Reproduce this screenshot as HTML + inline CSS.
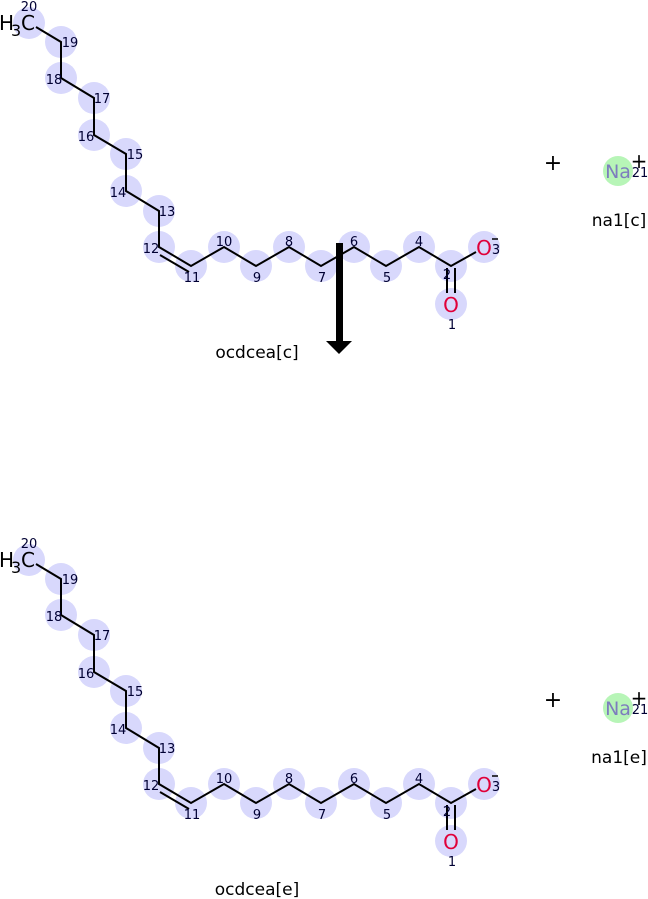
<!DOCTYPE html>
<html><head><meta charset="utf-8"><style>
html,body{margin:0;padding:0;background:#fff;width:648px;height:899px;overflow:hidden}
svg{display:block}
</style></head><body>
<svg width="648" height="899" viewBox="0 0 648 899" xmlns="http://www.w3.org/2000/svg" font-family="DejaVu Sans, Liberation Sans, sans-serif">
<defs>
<g id="mol">
<g fill="#d8d8fc">
<circle cx="29" cy="23" r="16"/><circle cx="61" cy="42" r="16"/><circle cx="61" cy="78" r="16"/>
<circle cx="94" cy="98" r="16"/><circle cx="94" cy="135" r="16"/><circle cx="126" cy="154" r="16"/>
<circle cx="126" cy="191" r="16"/><circle cx="159" cy="211" r="16"/><circle cx="159" cy="247" r="16"/>
<circle cx="191" cy="266" r="16"/><circle cx="224" cy="247" r="16"/><circle cx="256" cy="266" r="16"/>
<circle cx="289" cy="247" r="16"/><circle cx="321" cy="266" r="16"/><circle cx="354" cy="247" r="16"/>
<circle cx="386" cy="266" r="16"/><circle cx="419" cy="247" r="16"/><circle cx="451" cy="266" r="16"/>
<circle cx="484" cy="247" r="16"/><circle cx="451" cy="304" r="16"/>
</g>
<polyline stroke="#000" stroke-width="2" fill="none" points="36,27 61,42 61,78 94,98 94,135 126,154 126,191 159,211 159,247 191,266 224,247 256,266 289,247 321,266 354,247 386,266 419,247 451,266 476,252"/>
<line stroke="#000" stroke-width="2" x1="160" y1="255" x2="189" y2="272"/>
<line stroke="#000" stroke-width="2" x1="447" y1="268" x2="447" y2="293"/>
<line stroke="#000" stroke-width="2" x1="455" y1="268" x2="455" y2="293"/>
<text x="-1" y="30" font-size="20" fill="#000">H</text>
<text x="11" y="36" font-size="16" fill="#000">3</text>
<text x="21" y="30" font-size="20" fill="#000">C</text>
<g font-size="13" fill="#000033" text-anchor="middle">
<text x="29" y="11">20</text>
<text x="70" y="47">19</text>
<text x="54" y="84">18</text>
<text x="102" y="103">17</text>
<text x="86" y="141">16</text>
<text x="135" y="159">15</text>
<text x="118" y="197">14</text>
<text x="167" y="216">13</text>
<text x="151" y="253">12</text>
<text x="192" y="282">11</text>
<text x="224" y="246">10</text>
<text x="257" y="282">9</text>
<text x="289" y="246">8</text>
<text x="322" y="282">7</text>
<text x="354" y="246">6</text>
<text x="387" y="282">5</text>
<text x="419" y="246">4</text>
<text x="447" y="279">2</text>
<text x="496" y="254">3</text>
<text x="452" y="329">1</text>
<text x="640" y="177">21</text>
</g>
<text x="484" y="255" font-size="20" fill="#e0003a" text-anchor="middle">O</text>
<line x1="492" y1="239" x2="498" y2="239" stroke="#000" stroke-width="1.5"/>
<text x="451" y="312" font-size="20" fill="#e0003a" text-anchor="middle">O</text>
<text x="553" y="170" font-size="22" fill="#000" text-anchor="middle">+</text>
<circle cx="618" cy="171" r="15" fill="#b7f5b7"/>
<text x="618" y="178" font-size="19" fill="#7d7dbd" text-anchor="middle">Na</text>
<text x="639" y="168" font-size="20" fill="#000" text-anchor="middle">+</text>
</g>
</defs>
<use href="#mol"/>
<use href="#mol" transform="translate(0,537)"/>
<rect x="336" y="243" width="7" height="99" fill="#000"/>
<polygon points="326,341 352,341 339,354" fill="#000"/>
<g font-size="17" fill="#000" text-anchor="middle">
<text x="257" y="358">ocdcea[c]</text>
<text x="257" y="895">ocdcea[e]</text>
<text x="619" y="226">na1[c]</text>
<text x="619" y="763">na1[e]</text>
</g>
</svg>
</body></html>
